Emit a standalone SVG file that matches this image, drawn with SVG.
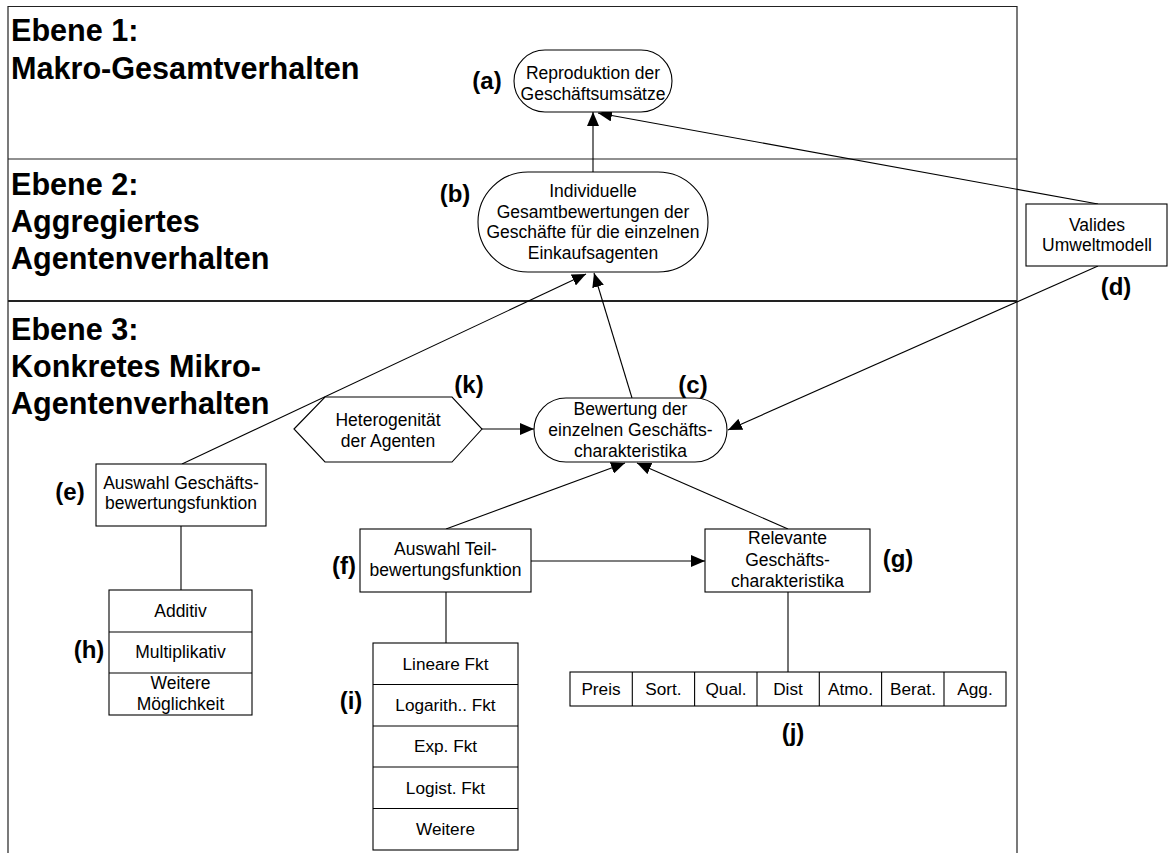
<svg xmlns="http://www.w3.org/2000/svg" width="1168" height="853" viewBox="0 0 1168 853">
  <defs>
    <style>
      .frame { fill: none; stroke: #222; stroke-width: 1.2; }
      .sep2 { fill: none; stroke: #222; stroke-width: 2.2; }
      .shape { fill: #fff; stroke: #000; stroke-width: 1.1; }
      .edge { fill: none; stroke: #000; stroke-width: 1.1; }
      .arrow { marker-end: url(#head); }
      .lvl { font-family: "Liberation Sans", Arial, sans-serif; font-weight: bold; font-size: 30.6px; fill: #000; }
      .tag { font-family: "Liberation Sans", Arial, sans-serif; font-weight: bold; font-size: 24px; fill: #000; text-anchor: middle; }
      .t { font-family: "Liberation Sans", Arial, sans-serif; font-size: 17.5px; fill: #000; text-anchor: middle; }
      .c { font-family: "Liberation Sans", Arial, sans-serif; font-size: 17.2px; fill: #000; text-anchor: middle; }
    </style>
    <marker id="head" viewBox="0 0 14 12" refX="14" refY="6" markerWidth="14" markerHeight="12" markerUnits="userSpaceOnUse" orient="auto">
      <path d="M0,0 L14,6 L0,12 z" fill="#000"/>
    </marker>
  </defs>

  <rect width="1168" height="853" fill="#fff"/>

  <!-- level frame -->
  <g id="frame">
    <path class="frame" d="M8,853 V6.5 H1017 V853"/>
    <line class="frame" x1="8" y1="159" x2="1017" y2="159"/>
    <line class="sep2" x1="8" y1="301" x2="1017" y2="301"/>
    <text class="lvl" x="11" y="41">Ebene 1:</text>
    <text class="lvl" x="11" y="79">Makro-Gesamtverhalten</text>
    <text class="lvl" x="11" y="195">Ebene 2:</text>
    <text class="lvl" x="11" y="232">Aggregiertes</text>
    <text class="lvl" x="11" y="269">Agentenverhalten</text>
    <text class="lvl" x="11" y="340">Ebene 3:</text>
    <text class="lvl" x="11" y="377">Konkretes Mikro-</text>
    <text class="lvl" x="11" y="414">Agentenverhalten</text>
  </g>

  <!-- connectors -->
  <g id="connectors">
    <line class="edge arrow" x1="593" y1="172" x2="593" y2="112"/>
    <line class="edge arrow" x1="1098" y1="204" x2="598" y2="113"/>
    <line class="edge arrow" x1="1098" y1="266" x2="728" y2="430"/>
    <line class="edge arrow" x1="182" y1="464" x2="586" y2="274"/>
    <line class="edge arrow" x1="632" y1="398" x2="594" y2="273"/>
    <line class="edge arrow" x1="482" y1="429" x2="534" y2="429"/>
    <line class="edge arrow" x1="446" y1="529" x2="625" y2="463"/>
    <line class="edge arrow" x1="788" y1="529" x2="637" y2="463"/>
    <line class="edge arrow" x1="531" y1="561" x2="705" y2="561"/>
    <line class="edge" x1="181" y1="526" x2="181" y2="590"/>
    <line class="edge" x1="446" y1="592" x2="446" y2="643"/>
    <line class="edge" x1="788" y1="592" x2="788" y2="672"/>
  </g>

  <g id="node-a">
    <rect class="shape" x="514" y="50" width="158" height="62" rx="31"/>
    <text class="t" x="593" y="79">Reproduktion der</text>
    <text class="t" x="593" y="100">Geschäftsumsätze</text>
    <text class="tag" x="487" y="89">(a)</text>
  </g>

  <g id="node-b">
    <rect class="shape" x="478" y="172" width="230" height="100" rx="50"/>
    <text class="t" x="593" y="197">Individuelle</text>
    <text class="t" x="593" y="217.5">Gesamtbewertungen der</text>
    <text class="t" x="593" y="238">Geschäfte für die einzelnen</text>
    <text class="t" x="593" y="258.5">Einkaufsagenten</text>
    <text class="tag" x="455" y="202">(b)</text>
  </g>

  <g id="node-d">
    <rect class="shape" x="1026" y="204" width="141" height="62"/>
    <text class="t" x="1097" y="231">Valides</text>
    <text class="t" x="1097" y="251">Umweltmodell</text>
    <text class="tag" x="1116" y="295">(d)</text>
  </g>

  <g id="node-c">
    <rect class="shape" x="534" y="398" width="193" height="64" rx="32"/>
    <text class="t" x="630.5" y="415">Bewertung der</text>
    <text class="t" x="630.5" y="436">einzelnen Geschäfts-</text>
    <text class="t" x="630.5" y="456.5">charakteristika</text>
    <text class="tag" x="693" y="393">(c)</text>
  </g>

  <g id="node-k">
    <polygon class="shape" points="294,429 325,397 452,397 482,429 452,462 325,462"/>
    <text class="t" x="388" y="426">Heterogenität</text>
    <text class="t" x="388" y="447">der Agenten</text>
    <text class="tag" x="469" y="393">(k)</text>
  </g>

  <g id="node-e">
    <rect class="shape" x="96" y="464" width="170" height="62"/>
    <text class="t" x="181" y="489">Auswahl Geschäfts-</text>
    <text class="t" x="181" y="509">bewertungsfunktion</text>
    <text class="tag" x="70" y="500">(e)</text>
  </g>

  <g id="node-h">
    <rect class="shape" x="109" y="590" width="143" height="125"/>
    <line class="edge" x1="109" y1="632" x2="252" y2="632"/>
    <line class="edge" x1="109" y1="673" x2="252" y2="673"/>
    <text class="t" x="180.5" y="617">Additiv</text>
    <text class="t" x="180.5" y="658">Multiplikativ</text>
    <text class="t" x="180.5" y="689">Weitere</text>
    <text class="t" x="180.5" y="710">Möglichkeit</text>
    <text class="tag" x="89" y="658">(h)</text>
  </g>

  <g id="node-f">
    <rect class="shape" x="360" y="529" width="171" height="63"/>
    <text class="t" x="445.5" y="555">Auswahl Teil-</text>
    <text class="t" x="445.5" y="576">bewertungsfunktion</text>
    <text class="tag" x="344" y="574">(f)</text>
  </g>

  <g id="node-g">
    <rect class="shape" x="705" y="529" width="165" height="63"/>
    <text class="t" x="787.5" y="544">Relevante</text>
    <text class="t" x="787.5" y="566">Geschäfts-</text>
    <text class="t" x="787.5" y="587">charakteristika</text>
    <text class="tag" x="898" y="567">(g)</text>
  </g>

  <g id="node-i">
    <rect class="shape" x="373" y="643" width="145" height="207"/>
    <line class="edge" x1="373" y1="684.5" x2="518" y2="684.5"/>
    <line class="edge" x1="373" y1="726" x2="518" y2="726"/>
    <line class="edge" x1="373" y1="767" x2="518" y2="767"/>
    <line class="edge" x1="373" y1="808.5" x2="518" y2="808.5"/>
    <text class="c" x="445.5" y="670">Lineare Fkt</text>
    <text class="c" x="445.5" y="711">Logarith.. Fkt</text>
    <text class="c" x="445.5" y="752">Exp. Fkt</text>
    <text class="c" x="445.5" y="794">Logist. Fkt</text>
    <text class="c" x="445.5" y="835">Weitere</text>
    <text class="tag" x="351" y="709">(i)</text>
  </g>

  <g id="node-j">
    <rect class="shape" x="570" y="672" width="436" height="34"/>
    <line class="edge" x1="632.3" y1="672" x2="632.3" y2="706"/>
    <line class="edge" x1="694.6" y1="672" x2="694.6" y2="706"/>
    <line class="edge" x1="757" y1="672" x2="757" y2="706"/>
    <line class="edge" x1="819.3" y1="672" x2="819.3" y2="706"/>
    <line class="edge" x1="881.6" y1="672" x2="881.6" y2="706"/>
    <line class="edge" x1="944" y1="672" x2="944" y2="706"/>
    <text class="c" x="601" y="695">Preis</text>
    <text class="c" x="663.5" y="695">Sort.</text>
    <text class="c" x="726" y="695">Qual.</text>
    <text class="c" x="788" y="695">Dist</text>
    <text class="c" x="850.5" y="695">Atmo.</text>
    <text class="c" x="913" y="695">Berat.</text>
    <text class="c" x="975" y="695">Agg.</text>
    <text class="tag" x="793" y="741">(j)</text>
  </g>
</svg>
